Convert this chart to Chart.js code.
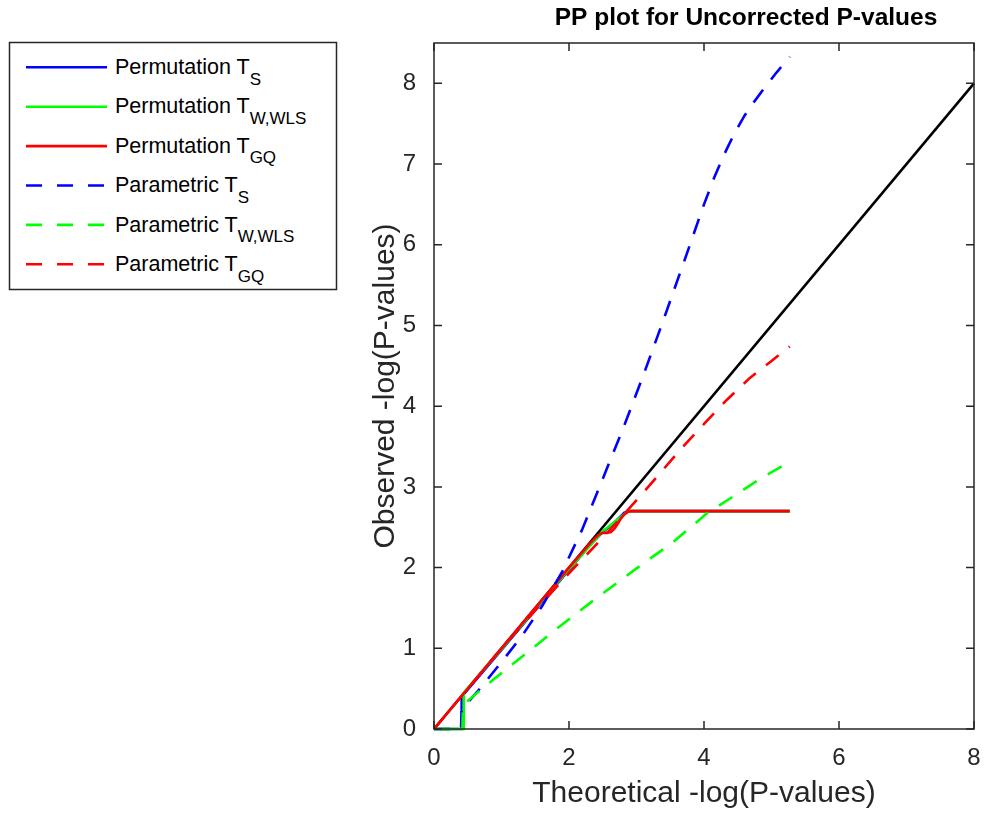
<!doctype html>
<html lang="en">

<head>
    <meta charset="utf-8">
    <title>PP plot for Uncorrected P-values</title>
    <script src="https://cdn.jsdelivr.net/npm/chart.js"></script>
    <style>
        body { margin: 0; background: #fff; }
        #wrap { position: relative; width: 988px; height: 814px; }
        #pp { position: absolute; left: 0; top: 0; }
        #legend { position: absolute; left: 0; top: 0; }
    </style>
</head>

<body>
    <div id="wrap">
        <canvas id="pp" width="988" height="814"></canvas>
        <svg id="legend" width="345" height="300" xmlns="http://www.w3.org/2000/svg"></svg>
    </div>

    <script>
        // values
        const xTicks = [0, 2, 4, 6, 8];
        const yTicks = [0, 1, 2, 3, 4, 5, 6, 7, 8];

        const refX = [0, 8];
        const refY = [0, 8];

        const permTsX = [0, 0.40, 0.41, 1.0, 2.0, 2.30, 2.50, 2.62, 2.70, 2.76, 2.82, 2.90, 5.27];
        const permTsY = [0, 0, 0.40, 0.98, 1.97, 2.27, 2.44, 2.52, 2.58, 2.63, 2.68, 2.70, 2.70];

        const permTwX = [0, 0.43, 0.44, 1.0, 2.0, 2.50, 2.70, 2.80, 2.86, 2.92, 5.27];
        const permTwY = [0, 0, 0.45, 0.99, 1.98, 2.45, 2.58, 2.65, 2.69, 2.70, 2.70];

        const permTgqX = [0, 1.0, 2.0, 2.31, 2.38, 2.44, 2.50, 2.56, 2.62, 2.67, 2.72, 2.77, 2.82, 2.87, 2.92, 5.27];
        const permTgqY = [0, 1.0, 2.0, 2.30, 2.36, 2.41, 2.43, 2.43, 2.44, 2.48, 2.54, 2.61, 2.66, 2.69, 2.70, 2.70];

        const parTsX = [0, 0.40, 0.41, 0.7, 1.0, 1.3, 1.6, 1.9, 2.2, 2.5, 2.8, 3.1, 3.4, 3.7, 4.0, 4.15, 4.3, 4.45, 4.6, 4.75, 4.9, 5.08, 5.27];
        const parTsY = [0, 0, 0.24, 0.52, 0.83, 1.15, 1.52, 1.95, 2.48, 3.10, 3.72, 4.38, 5.07, 5.78, 6.50, 6.83, 7.12, 7.38, 7.60, 7.78, 7.95, 8.14, 8.33];

        const parTwX = [0, 0.42, 0.43, 0.83, 1.22, 1.8, 2.31, 3.0, 3.55, 4.04, 4.43, 4.83, 5.27];
        const parTwY = [0, 0, 0.30, 0.58, 0.84, 1.23, 1.56, 1.99, 2.32, 2.67, 2.88, 3.10, 3.31];

        const parTgqX = [0, 1.0, 1.5, 2.0, 2.5, 3.05, 3.69, 4.0, 4.34, 4.68, 5.0, 5.27];
        const parTgqY = [0, 1.0, 1.47, 1.93, 2.37, 2.88, 3.50, 3.78, 4.08, 4.35, 4.56, 4.74];

        const legendMain = ["Permutation T", "Permutation T", "Permutation T", "Parametric T", "Parametric T", "Parametric T"];
        const legendSub = ["S", "W,WLS", "GQ", "S", "W,WLS", "GQ"];

        function pts(xs, ys) {
            return xs.map((x, i) => ({ x: x, y: ys[i] }));
        }

        const dash = [16, 13];
        const axisColor = "#262626";

        function series(xs, ys, color, dashed, order) {
            return {
                data: pts(xs, ys),
                borderColor: color,
                borderWidth: 2.6,
                borderDash: dashed ? dash : [],
                pointRadius: 0,
                showLine: true,
                tension: 0,
                clip: 5,
                order: order
            };
        }

        // legend order = first six, black reference line drawn underneath
        const lines = [
            series(permTsX, permTsY, "#0000ff", false, 6),
            series(permTwX, permTwY, "#00ff00", false, 5),
            series(permTgqX, permTgqY, "#ff0000", false, 4),
            series(parTsX, parTsY, "#0000ff", true, 3),
            series(parTwX, parTwY, "#00ff00", true, 2),
            series(parTgqX, parTgqY, "#ff0000", true, 1)
        ];
        const refLine = series(refX, refY, "#000000", false, 10);

        // box + inward ticks on all four sides, like matlab
        const boxPlugin = {
            id: 'box',
            afterDatasetsDraw(chart) {
                const ctx = chart.ctx;
                const a = chart.chartArea;
                const xs = chart.scales.x;
                const ys = chart.scales.y;
                const tl = 8;
                ctx.save();
                ctx.strokeStyle = axisColor;
                ctx.lineWidth = 1.5;
                ctx.beginPath();
                for (const t of xs.ticks) {
                    const px = xs.getPixelForValue(t.value);
                    ctx.moveTo(px, a.bottom);
                    ctx.lineTo(px, a.bottom - tl);
                    ctx.moveTo(px, a.top);
                    ctx.lineTo(px, a.top + tl);
                }
                for (const t of ys.ticks) {
                    const py = ys.getPixelForValue(t.value);
                    ctx.moveTo(a.left, py);
                    ctx.lineTo(a.left + tl, py);
                    ctx.moveTo(a.right, py);
                    ctx.lineTo(a.right - tl, py);
                }
                ctx.stroke();
                ctx.strokeRect(a.left, a.top, a.right - a.left, a.bottom - a.top);
                ctx.restore();
            }
        };

        const titlePlugin = {
            id: 'ptitle',
            afterDraw(chart) {
                const ctx = chart.ctx;
                ctx.save();
                ctx.fillStyle = "#000";
                ctx.font = "bold 24.5px 'Liberation Sans', Arial, sans-serif";
                ctx.textAlign = "center";
                ctx.textBaseline = "middle";
                ctx.fillText("PP plot for Uncorrected P-values", 746, 18);
                ctx.restore();
            }
        };

        Chart.defaults.font.family = "'Liberation Sans', Arial, sans-serif";
        Chart.defaults.color = axisColor;

        new Chart(document.getElementById('pp'), {
            type: 'scatter',
            data: { datasets: lines.concat([refLine]) },
            plugins: [boxPlugin, titlePlugin],
            options: {
                responsive: false,
                animation: false,
                devicePixelRatio: 1,
                layout: { padding: { left: 360, right: 14, top: 43, bottom: 0 } },
                plugins: {
                    legend: { display: false },
                    tooltip: { enabled: false }
                },
                scales: {
                    x: {
                        type: 'linear',
                        min: 0,
                        max: 8,
                        afterBuildTicks: (s) => { s.ticks = xTicks.map(v => ({ value: v })); },
                        afterFit: (s) => { s.height = 85; s.paddingLeft = 0; s.paddingRight = 0; },
                        grid: { display: false },
                        border: { display: false },
                        ticks: { autoSkip: false, maxRotation: 0, padding: 7, font: { size: 24 }, color: axisColor },
                        title: {
                            display: true,
                            text: "Theoretical -log(P-values)",
                            font: { size: 30 },
                            color: axisColor,
                            padding: { top: 0, bottom: 2 }
                        }
                    },
                    y: {
                        type: 'linear',
                        min: 0,
                        max: 8.5,
                        afterBuildTicks: (s) => { s.ticks = yTicks.map(v => ({ value: v })); },
                        afterFit: (s) => { s.width = 74; s.paddingTop = 0; s.paddingBottom = 0; },
                        grid: { display: false },
                        border: { display: false },
                        ticks: { autoSkip: false, padding: 10, font: { size: 24 }, color: axisColor },
                        title: {
                            display: true,
                            text: "Observed -log(P-values)",
                            font: { size: 30 },
                            color: axisColor,
                            padding: { top: 8, bottom: 0 }
                        }
                    }
                }
            }
        });

        // legend box with subscripts, built from the same series styles
        const svg = document.getElementById('legend');
        const ns = "http://www.w3.org/2000/svg";

        let box = document.createElementNS(ns, 'rect');
        box.setAttribute('x', 9.5);
        box.setAttribute('y', 42.5);
        box.setAttribute('width', 327);
        box.setAttribute('height', 247);
        box.setAttribute('fill', '#fff');
        box.setAttribute('stroke', axisColor);
        box.setAttribute('stroke-width', 1.5);
        svg.appendChild(box);

        for (let i = 0; i < lines.length; i++) {
            const ly = 67.3 + i * 39.4;

            let ln = document.createElementNS(ns, 'line');
            ln.setAttribute('x1', 26);
            ln.setAttribute('x2', 107);
            ln.setAttribute('y1', ly);
            ln.setAttribute('y2', ly);
            ln.setAttribute('stroke', lines[i].borderColor);
            ln.setAttribute('stroke-width', 2.6);
            if (lines[i].borderDash.length) {
                ln.setAttribute('stroke-dasharray', '16 15');
            }
            svg.appendChild(ln);

            let tx = document.createElementNS(ns, 'text');
            tx.setAttribute('x', 115);
            tx.setAttribute('y', ly + 6.7);
            tx.setAttribute('font-family', "'Liberation Sans', Arial, sans-serif");
            tx.setAttribute('font-size', 21.5);
            tx.setAttribute('fill', '#000');
            tx.appendChild(document.createTextNode(legendMain[i]));
            let sub = document.createElementNS(ns, 'tspan');
            sub.setAttribute('dy', 10.5);
            sub.setAttribute('font-size', 17);
            sub.textContent = legendSub[i];
            tx.appendChild(sub);
            svg.appendChild(tx);
        }
    </script>
</body>

</html>
